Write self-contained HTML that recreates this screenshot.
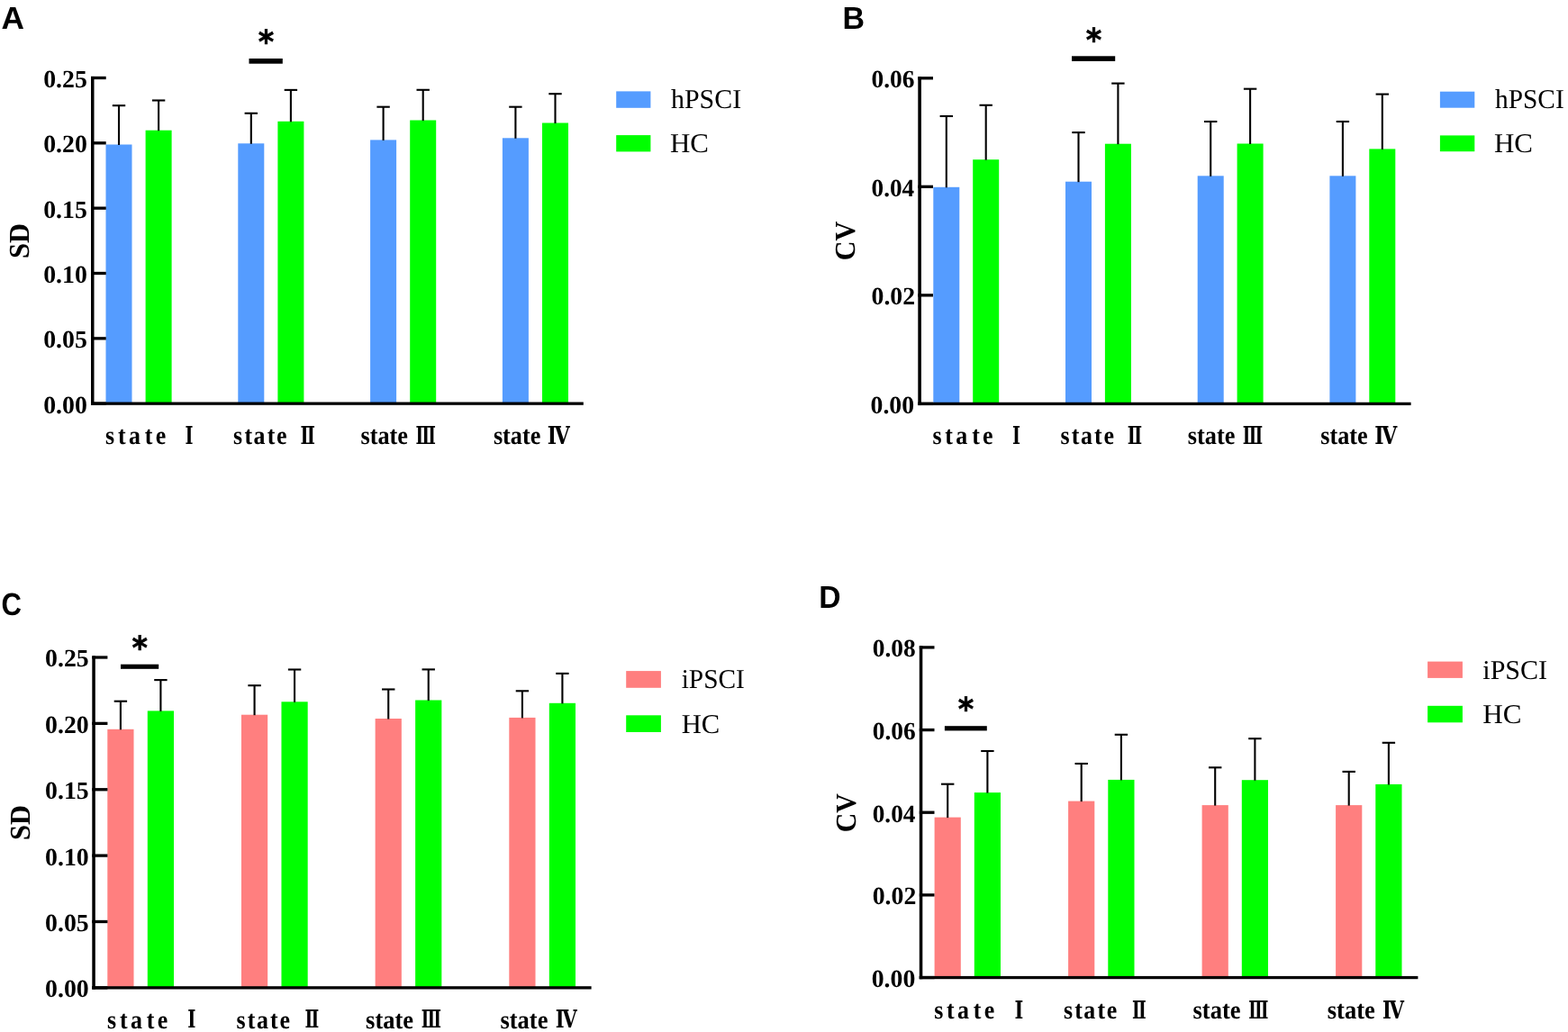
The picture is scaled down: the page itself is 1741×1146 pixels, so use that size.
<!DOCTYPE html><html><head><meta charset="utf-8"><title>Figure</title><style>html,body{margin:0;padding:0;background:#fff;overflow:hidden;}svg{display:block;}</style></head><body>
<svg width="1741" height="1146" viewBox="0 0 1741 1146" style="text-rendering:geometricPrecision">
<rect width="1741" height="1146" fill="#fff"/>
<g><rect x="117.50" y="160.50" width="29.00" height="287.65" fill="#559CFF"/><rect x="161.60" y="144.70" width="29.00" height="303.45" fill="#00FF00"/><rect x="264.30" y="159.30" width="29.00" height="288.85" fill="#559CFF"/><rect x="308.40" y="134.80" width="29.00" height="313.35" fill="#00FF00"/><rect x="411.10" y="155.40" width="29.00" height="292.75" fill="#559CFF"/><rect x="455.20" y="133.50" width="29.00" height="314.65" fill="#00FF00"/><rect x="557.90" y="153.30" width="29.00" height="294.85" fill="#559CFF"/><rect x="602.00" y="136.50" width="29.00" height="311.65" fill="#00FF00"/><line x1="132.00" y1="161.00" x2="132.00" y2="117.20" stroke="#000" stroke-width="2.1"/><line x1="124.80" y1="117.20" x2="139.20" y2="117.20" stroke="#000" stroke-width="2.1"/><line x1="176.10" y1="145.20" x2="176.10" y2="111.50" stroke="#000" stroke-width="2.1"/><line x1="168.90" y1="111.50" x2="183.30" y2="111.50" stroke="#000" stroke-width="2.1"/><line x1="278.80" y1="159.80" x2="278.80" y2="125.80" stroke="#000" stroke-width="2.1"/><line x1="271.60" y1="125.80" x2="286.00" y2="125.80" stroke="#000" stroke-width="2.1"/><line x1="322.90" y1="135.30" x2="322.90" y2="99.90" stroke="#000" stroke-width="2.1"/><line x1="315.70" y1="99.90" x2="330.10" y2="99.90" stroke="#000" stroke-width="2.1"/><line x1="425.60" y1="155.90" x2="425.60" y2="118.70" stroke="#000" stroke-width="2.1"/><line x1="418.40" y1="118.70" x2="432.80" y2="118.70" stroke="#000" stroke-width="2.1"/><line x1="469.70" y1="134.00" x2="469.70" y2="99.80" stroke="#000" stroke-width="2.1"/><line x1="462.50" y1="99.80" x2="476.90" y2="99.80" stroke="#000" stroke-width="2.1"/><line x1="572.40" y1="153.80" x2="572.40" y2="118.70" stroke="#000" stroke-width="2.1"/><line x1="565.20" y1="118.70" x2="579.60" y2="118.70" stroke="#000" stroke-width="2.1"/><line x1="616.50" y1="137.00" x2="616.50" y2="104.20" stroke="#000" stroke-width="2.1"/><line x1="609.30" y1="104.20" x2="623.70" y2="104.20" stroke="#000" stroke-width="2.1"/><rect x="101.00" y="84.90" width="3.50" height="364.90" fill="#000"/><rect x="101.00" y="446.50" width="546.80" height="3.30" fill="#000"/><rect x="101.00" y="84.85" width="16.70" height="3.30" fill="#000"/><rect x="101.00" y="157.18" width="16.70" height="3.30" fill="#000"/><rect x="101.00" y="229.51" width="16.70" height="3.30" fill="#000"/><rect x="101.00" y="301.84" width="16.70" height="3.30" fill="#000"/><rect x="101.00" y="374.17" width="16.70" height="3.30" fill="#000"/><rect x="101.00" y="446.50" width="16.70" height="3.30" fill="#000"/><rect x="276.50" y="65.00" width="37.30" height="5.70" fill="#000"/><rect x="684.20" y="101.40" width="38.20" height="18.40" fill="#559CFF"/><rect x="684.20" y="150.10" width="38.20" height="18.30" fill="#00FF00"/></g>
<g><rect x="1036.30" y="207.80" width="29.00" height="240.60" fill="#559CFF"/><rect x="1080.20" y="177.20" width="29.00" height="271.20" fill="#00FF00"/><rect x="1183.00" y="201.70" width="29.00" height="246.70" fill="#559CFF"/><rect x="1226.90" y="159.70" width="29.00" height="288.70" fill="#00FF00"/><rect x="1329.70" y="195.30" width="29.00" height="253.10" fill="#559CFF"/><rect x="1373.60" y="159.50" width="29.00" height="288.90" fill="#00FF00"/><rect x="1476.40" y="195.30" width="29.00" height="253.10" fill="#559CFF"/><rect x="1520.30" y="165.40" width="29.00" height="283.00" fill="#00FF00"/><line x1="1050.80" y1="208.30" x2="1050.80" y2="129.00" stroke="#000" stroke-width="2.1"/><line x1="1043.60" y1="129.00" x2="1058.00" y2="129.00" stroke="#000" stroke-width="2.1"/><line x1="1094.70" y1="177.70" x2="1094.70" y2="116.80" stroke="#000" stroke-width="2.1"/><line x1="1087.50" y1="116.80" x2="1101.90" y2="116.80" stroke="#000" stroke-width="2.1"/><line x1="1197.50" y1="202.20" x2="1197.50" y2="147.10" stroke="#000" stroke-width="2.1"/><line x1="1190.30" y1="147.10" x2="1204.70" y2="147.10" stroke="#000" stroke-width="2.1"/><line x1="1241.40" y1="160.20" x2="1241.40" y2="92.60" stroke="#000" stroke-width="2.1"/><line x1="1234.20" y1="92.60" x2="1248.60" y2="92.60" stroke="#000" stroke-width="2.1"/><line x1="1344.20" y1="195.80" x2="1344.20" y2="135.00" stroke="#000" stroke-width="2.1"/><line x1="1337.00" y1="135.00" x2="1351.40" y2="135.00" stroke="#000" stroke-width="2.1"/><line x1="1388.10" y1="160.00" x2="1388.10" y2="98.70" stroke="#000" stroke-width="2.1"/><line x1="1380.90" y1="98.70" x2="1395.30" y2="98.70" stroke="#000" stroke-width="2.1"/><line x1="1490.90" y1="195.80" x2="1490.90" y2="135.00" stroke="#000" stroke-width="2.1"/><line x1="1483.70" y1="135.00" x2="1498.10" y2="135.00" stroke="#000" stroke-width="2.1"/><line x1="1534.80" y1="165.90" x2="1534.80" y2="104.60" stroke="#000" stroke-width="2.1"/><line x1="1527.60" y1="104.60" x2="1542.00" y2="104.60" stroke="#000" stroke-width="2.1"/><rect x="1019.30" y="85.20" width="3.60" height="364.85" fill="#000"/><rect x="1019.30" y="446.75" width="547.30" height="3.30" fill="#000"/><rect x="1019.30" y="85.15" width="16.70" height="3.30" fill="#000"/><rect x="1019.30" y="205.68" width="16.70" height="3.30" fill="#000"/><rect x="1019.30" y="326.21" width="16.70" height="3.30" fill="#000"/><rect x="1019.30" y="446.74" width="16.70" height="3.30" fill="#000"/><rect x="1190.00" y="62.30" width="48.20" height="5.60" fill="#000"/><rect x="1598.90" y="101.70" width="38.40" height="18.00" fill="#559CFF"/><rect x="1598.90" y="150.40" width="38.40" height="17.80" fill="#00FF00"/></g>
<g><rect x="119.30" y="809.80" width="29.20" height="287.05" fill="#FF7F7F"/><rect x="163.80" y="789.40" width="29.20" height="307.45" fill="#00FF00"/><rect x="267.97" y="793.70" width="29.20" height="303.15" fill="#FF7F7F"/><rect x="312.47" y="779.30" width="29.20" height="317.55" fill="#00FF00"/><rect x="416.64" y="798.00" width="29.20" height="298.85" fill="#FF7F7F"/><rect x="461.14" y="777.50" width="29.20" height="319.35" fill="#00FF00"/><rect x="565.31" y="796.90" width="29.20" height="299.95" fill="#FF7F7F"/><rect x="609.81" y="780.80" width="29.20" height="316.05" fill="#00FF00"/><line x1="133.90" y1="810.30" x2="133.90" y2="778.70" stroke="#000" stroke-width="2.1"/><line x1="126.70" y1="778.70" x2="141.10" y2="778.70" stroke="#000" stroke-width="2.1"/><line x1="178.40" y1="789.90" x2="178.40" y2="755.10" stroke="#000" stroke-width="2.1"/><line x1="171.20" y1="755.10" x2="185.60" y2="755.10" stroke="#000" stroke-width="2.1"/><line x1="282.57" y1="794.20" x2="282.57" y2="761.20" stroke="#000" stroke-width="2.1"/><line x1="275.37" y1="761.20" x2="289.77" y2="761.20" stroke="#000" stroke-width="2.1"/><line x1="327.07" y1="779.80" x2="327.07" y2="743.50" stroke="#000" stroke-width="2.1"/><line x1="319.87" y1="743.50" x2="334.27" y2="743.50" stroke="#000" stroke-width="2.1"/><line x1="431.24" y1="798.50" x2="431.24" y2="765.50" stroke="#000" stroke-width="2.1"/><line x1="424.04" y1="765.50" x2="438.44" y2="765.50" stroke="#000" stroke-width="2.1"/><line x1="475.74" y1="778.00" x2="475.74" y2="743.40" stroke="#000" stroke-width="2.1"/><line x1="468.54" y1="743.40" x2="482.94" y2="743.40" stroke="#000" stroke-width="2.1"/><line x1="579.91" y1="797.40" x2="579.91" y2="767.30" stroke="#000" stroke-width="2.1"/><line x1="572.71" y1="767.30" x2="587.11" y2="767.30" stroke="#000" stroke-width="2.1"/><line x1="624.41" y1="781.30" x2="624.41" y2="747.90" stroke="#000" stroke-width="2.1"/><line x1="617.21" y1="747.90" x2="631.61" y2="747.90" stroke="#000" stroke-width="2.1"/><rect x="102.30" y="728.40" width="3.50" height="370.10" fill="#000"/><rect x="102.30" y="1095.20" width="554.30" height="3.30" fill="#000"/><rect x="102.30" y="728.35" width="17.10" height="3.30" fill="#000"/><rect x="102.30" y="801.72" width="17.10" height="3.30" fill="#000"/><rect x="102.30" y="875.09" width="17.10" height="3.30" fill="#000"/><rect x="102.30" y="948.46" width="17.10" height="3.30" fill="#000"/><rect x="102.30" y="1021.83" width="17.10" height="3.30" fill="#000"/><rect x="102.30" y="1095.20" width="17.10" height="3.30" fill="#000"/><rect x="134.00" y="737.70" width="42.20" height="5.10" fill="#000"/><rect x="695.20" y="745.10" width="38.70" height="18.70" fill="#FF7F7F"/><rect x="695.20" y="794.30" width="38.70" height="18.70" fill="#00FF00"/></g>
<g><rect x="1037.60" y="907.60" width="29.20" height="177.95" fill="#FF7F7F"/><rect x="1081.80" y="880.10" width="29.20" height="205.45" fill="#00FF00"/><rect x="1186.10" y="889.60" width="29.20" height="195.95" fill="#FF7F7F"/><rect x="1230.30" y="865.90" width="29.20" height="219.65" fill="#00FF00"/><rect x="1334.60" y="894.10" width="29.20" height="191.45" fill="#FF7F7F"/><rect x="1378.80" y="866.20" width="29.20" height="219.35" fill="#00FF00"/><rect x="1483.10" y="894.10" width="29.20" height="191.45" fill="#FF7F7F"/><rect x="1527.30" y="870.90" width="29.20" height="214.65" fill="#00FF00"/><line x1="1052.20" y1="908.10" x2="1052.20" y2="870.70" stroke="#000" stroke-width="2.1"/><line x1="1045.00" y1="870.70" x2="1059.40" y2="870.70" stroke="#000" stroke-width="2.1"/><line x1="1096.40" y1="880.60" x2="1096.40" y2="834.00" stroke="#000" stroke-width="2.1"/><line x1="1089.20" y1="834.00" x2="1103.60" y2="834.00" stroke="#000" stroke-width="2.1"/><line x1="1200.70" y1="890.10" x2="1200.70" y2="848.00" stroke="#000" stroke-width="2.1"/><line x1="1193.50" y1="848.00" x2="1207.90" y2="848.00" stroke="#000" stroke-width="2.1"/><line x1="1244.90" y1="866.40" x2="1244.90" y2="815.80" stroke="#000" stroke-width="2.1"/><line x1="1237.70" y1="815.80" x2="1252.10" y2="815.80" stroke="#000" stroke-width="2.1"/><line x1="1349.20" y1="894.60" x2="1349.20" y2="852.30" stroke="#000" stroke-width="2.1"/><line x1="1342.00" y1="852.30" x2="1356.40" y2="852.30" stroke="#000" stroke-width="2.1"/><line x1="1393.40" y1="866.70" x2="1393.40" y2="820.20" stroke="#000" stroke-width="2.1"/><line x1="1386.20" y1="820.20" x2="1400.60" y2="820.20" stroke="#000" stroke-width="2.1"/><line x1="1497.70" y1="894.60" x2="1497.70" y2="856.90" stroke="#000" stroke-width="2.1"/><line x1="1490.50" y1="856.90" x2="1504.90" y2="856.90" stroke="#000" stroke-width="2.1"/><line x1="1541.90" y1="871.40" x2="1541.90" y2="824.80" stroke="#000" stroke-width="2.1"/><line x1="1534.70" y1="824.80" x2="1549.10" y2="824.80" stroke="#000" stroke-width="2.1"/><rect x="1020.80" y="717.20" width="3.50" height="370.00" fill="#000"/><rect x="1020.80" y="1083.90" width="553.60" height="3.30" fill="#000"/><rect x="1020.80" y="717.25" width="16.70" height="3.30" fill="#000"/><rect x="1020.80" y="808.91" width="16.70" height="3.30" fill="#000"/><rect x="1020.80" y="900.57" width="16.70" height="3.30" fill="#000"/><rect x="1020.80" y="992.23" width="16.70" height="3.30" fill="#000"/><rect x="1020.80" y="1083.89" width="16.70" height="3.30" fill="#000"/><rect x="1048.90" y="806.20" width="46.90" height="5.20" fill="#000"/><rect x="1585.10" y="734.60" width="38.80" height="18.30" fill="#FF7F7F"/><rect x="1585.10" y="783.80" width="38.80" height="18.50" fill="#00FF00"/></g>
<text x="48.20" y="96.90" font-family="'Liberation Serif', serif" font-weight="bold" font-size="27.7" textLength="48.63" lengthAdjust="spacingAndGlyphs" fill="#000">0.25</text>
<text x="48.20" y="169.23" font-family="'Liberation Serif', serif" font-weight="bold" font-size="27.7" textLength="48.63" lengthAdjust="spacingAndGlyphs" fill="#000">0.20</text>
<text x="48.20" y="241.56" font-family="'Liberation Serif', serif" font-weight="bold" font-size="27.7" textLength="48.63" lengthAdjust="spacingAndGlyphs" fill="#000">0.15</text>
<text x="48.20" y="313.89" font-family="'Liberation Serif', serif" font-weight="bold" font-size="27.7" textLength="48.63" lengthAdjust="spacingAndGlyphs" fill="#000">0.10</text>
<text x="48.20" y="386.22" font-family="'Liberation Serif', serif" font-weight="bold" font-size="27.7" textLength="48.63" lengthAdjust="spacingAndGlyphs" fill="#000">0.05</text>
<text x="48.20" y="458.55" font-family="'Liberation Serif', serif" font-weight="bold" font-size="27.7" textLength="48.63" lengthAdjust="spacingAndGlyphs" fill="#000">0.00</text>
<text transform="translate(0 493.00) scale(0.9 1)" x="130.11 145.44 158.78 178.61 191.83" y="0" font-family="'Liberation Serif', serif" font-weight="bold" font-size="28.8" fill="#000">state</text>
<text x="205.50" y="492.50" font-family="'DejaVu Serif', serif" font-weight="bold" font-size="27.4" textLength="9.01" lengthAdjust="spacingAndGlyphs" fill="#000">Ⅰ</text>
<text transform="translate(0 493.00) scale(0.9 1)" x="287.89 301.61 312.78 329.67 341.18" y="0" font-family="'Liberation Serif', serif" font-weight="bold" font-size="28.8" fill="#000">state</text>
<text x="333.40" y="492.50" font-family="'DejaVu Serif', serif" font-weight="bold" font-size="27.4" textLength="16.42" lengthAdjust="spacingAndGlyphs" fill="#000">Ⅱ</text>
<text x="400.40" y="493.00" font-family="'Liberation Serif', serif" font-weight="bold" font-size="28.8" textLength="52.63" lengthAdjust="spacingAndGlyphs" fill="#000">state</text>
<text x="461.40" y="492.50" font-family="'DejaVu Serif', serif" font-weight="bold" font-size="27.4" textLength="22.42" lengthAdjust="spacingAndGlyphs" fill="#000">Ⅲ</text>
<text x="547.90" y="493.00" font-family="'Liberation Serif', serif" font-weight="bold" font-size="28.8" textLength="52.42" lengthAdjust="spacingAndGlyphs" fill="#000">state</text>
<text x="607.80" y="492.50" font-family="'DejaVu Serif', serif" font-weight="bold" font-size="27.4" textLength="24.98" lengthAdjust="spacingAndGlyphs" fill="#000">Ⅳ</text>
<text x="745.00" y="120.40" font-family="'Liberation Serif', serif" font-weight="normal" font-size="30.3" textLength="78.13" lengthAdjust="spacingAndGlyphs" fill="#000">hPSCI</text>
<text x="744.00" y="169.00" font-family="'Liberation Serif', serif" font-weight="normal" font-size="30.3" textLength="43.0" lengthAdjust="spacingAndGlyphs" fill="#000">HC</text>
<text x="32.10" y="287.05" font-family="'Liberation Serif', serif" font-weight="bold" font-size="32" textLength="38.98" lengthAdjust="spacingAndGlyphs" transform="rotate(-90 32.10 287.05)" fill="#000">SD</text>
<text x="1.50" y="31.50" font-family="'Liberation Sans', sans-serif" font-weight="bold" font-size="35" textLength="25.46" lengthAdjust="spacingAndGlyphs" fill="#000">A</text>
<text x="286.65" y="59.05" font-family="'DejaVu Sans', sans-serif" font-weight="bold" font-size="36.0" textLength="17.47" lengthAdjust="spacingAndGlyphs" stroke="#000" stroke-width="0.6" stroke-linejoin="round" fill="#000">*</text>
<text x="967.50" y="97.20" font-family="'Liberation Serif', serif" font-weight="bold" font-size="27.7" textLength="48.02" lengthAdjust="spacingAndGlyphs" fill="#000">0.06</text>
<text x="967.50" y="217.73" font-family="'Liberation Serif', serif" font-weight="bold" font-size="27.7" textLength="47.7" lengthAdjust="spacingAndGlyphs" fill="#000">0.04</text>
<text x="967.50" y="338.26" font-family="'Liberation Serif', serif" font-weight="bold" font-size="27.7" textLength="48.63" lengthAdjust="spacingAndGlyphs" fill="#000">0.02</text>
<text x="966.50" y="458.79" font-family="'Liberation Serif', serif" font-weight="bold" font-size="27.7" textLength="48.63" lengthAdjust="spacingAndGlyphs" fill="#000">0.00</text>
<text transform="translate(0 493.00) scale(0.9 1)" x="1150.56 1165.89 1179.22 1199.06 1212.28" y="0" font-family="'Liberation Serif', serif" font-weight="bold" font-size="28.8" fill="#000">state</text>
<text x="1123.90" y="492.50" font-family="'DejaVu Serif', serif" font-weight="bold" font-size="27.4" textLength="9.01" lengthAdjust="spacingAndGlyphs" fill="#000">Ⅰ</text>
<text transform="translate(0 493.00) scale(0.9 1)" x="1308.33 1322.06 1333.22 1350.11 1361.62" y="0" font-family="'Liberation Serif', serif" font-weight="bold" font-size="28.8" fill="#000">state</text>
<text x="1251.80" y="492.50" font-family="'DejaVu Serif', serif" font-weight="bold" font-size="27.4" textLength="16.42" lengthAdjust="spacingAndGlyphs" fill="#000">Ⅱ</text>
<text x="1318.80" y="493.00" font-family="'Liberation Serif', serif" font-weight="bold" font-size="28.8" textLength="52.63" lengthAdjust="spacingAndGlyphs" fill="#000">state</text>
<text x="1379.80" y="492.50" font-family="'DejaVu Serif', serif" font-weight="bold" font-size="27.4" textLength="22.42" lengthAdjust="spacingAndGlyphs" fill="#000">Ⅲ</text>
<text x="1466.30" y="493.00" font-family="'Liberation Serif', serif" font-weight="bold" font-size="28.8" textLength="52.42" lengthAdjust="spacingAndGlyphs" fill="#000">state</text>
<text x="1526.20" y="492.50" font-family="'DejaVu Serif', serif" font-weight="bold" font-size="27.4" textLength="24.98" lengthAdjust="spacingAndGlyphs" fill="#000">Ⅳ</text>
<text x="1660.00" y="120.30" font-family="'Liberation Serif', serif" font-weight="normal" font-size="30.3" textLength="76.67" lengthAdjust="spacingAndGlyphs" fill="#000">hPSCI</text>
<text x="1659.00" y="168.80" font-family="'Liberation Serif', serif" font-weight="normal" font-size="30.3" textLength="43.0" lengthAdjust="spacingAndGlyphs" fill="#000">HC</text>
<text x="949.50" y="289.35" font-family="'Liberation Serif', serif" font-weight="bold" font-size="32" textLength="43.45" lengthAdjust="spacingAndGlyphs" transform="rotate(-90 949.50 289.35)" fill="#000">CV</text>
<text x="935.40" y="31.85" font-family="'Liberation Sans', sans-serif" font-weight="bold" font-size="35" textLength="24.53" lengthAdjust="spacingAndGlyphs" fill="#000">B</text>
<text x="1205.85" y="57.10" font-family="'DejaVu Sans', sans-serif" font-weight="bold" font-size="36.0" textLength="17.47" lengthAdjust="spacingAndGlyphs" stroke="#000" stroke-width="0.6" stroke-linejoin="round" fill="#000">*</text>
<text x="50.10" y="740.40" font-family="'Liberation Serif', serif" font-weight="bold" font-size="27.7" textLength="48.63" lengthAdjust="spacingAndGlyphs" fill="#000">0.25</text>
<text x="50.10" y="813.77" font-family="'Liberation Serif', serif" font-weight="bold" font-size="27.7" textLength="48.63" lengthAdjust="spacingAndGlyphs" fill="#000">0.20</text>
<text x="50.10" y="887.14" font-family="'Liberation Serif', serif" font-weight="bold" font-size="27.7" textLength="48.63" lengthAdjust="spacingAndGlyphs" fill="#000">0.15</text>
<text x="50.10" y="960.51" font-family="'Liberation Serif', serif" font-weight="bold" font-size="27.7" textLength="48.63" lengthAdjust="spacingAndGlyphs" fill="#000">0.10</text>
<text x="50.10" y="1033.88" font-family="'Liberation Serif', serif" font-weight="bold" font-size="27.7" textLength="48.63" lengthAdjust="spacingAndGlyphs" fill="#000">0.05</text>
<text x="50.10" y="1107.25" font-family="'Liberation Serif', serif" font-weight="bold" font-size="27.7" textLength="48.63" lengthAdjust="spacingAndGlyphs" fill="#000">0.00</text>
<text transform="translate(0 1141.70) scale(0.9 1)" x="132.33 147.67 161.00 180.83 194.06" y="0" font-family="'Liberation Serif', serif" font-weight="bold" font-size="28.8" fill="#000">state</text>
<text x="208.30" y="1141.20" font-family="'DejaVu Serif', serif" font-weight="bold" font-size="27.4" textLength="9.2" lengthAdjust="spacingAndGlyphs" fill="#000">Ⅰ</text>
<text transform="translate(0 1141.70) scale(0.9 1)" x="291.67 305.39 316.56 333.44 344.96" y="0" font-family="'Liberation Serif', serif" font-weight="bold" font-size="28.8" fill="#000">state</text>
<text x="338.60" y="1141.20" font-family="'DejaVu Serif', serif" font-weight="bold" font-size="27.4" textLength="15.76" lengthAdjust="spacingAndGlyphs" fill="#000">Ⅱ</text>
<text x="406.10" y="1141.70" font-family="'Liberation Serif', serif" font-weight="bold" font-size="28.8" textLength="53.04" lengthAdjust="spacingAndGlyphs" fill="#000">state</text>
<text x="467.80" y="1141.20" font-family="'DejaVu Serif', serif" font-weight="bold" font-size="27.4" textLength="22.21" lengthAdjust="spacingAndGlyphs" fill="#000">Ⅲ</text>
<text x="555.40" y="1141.70" font-family="'Liberation Serif', serif" font-weight="bold" font-size="28.8" textLength="53.04" lengthAdjust="spacingAndGlyphs" fill="#000">state</text>
<text x="616.70" y="1141.20" font-family="'DejaVu Serif', serif" font-weight="bold" font-size="27.4" textLength="23.95" lengthAdjust="spacingAndGlyphs" fill="#000">Ⅳ</text>
<text x="756.70" y="764.40" font-family="'Liberation Serif', serif" font-weight="normal" font-size="30.3" textLength="70.14" lengthAdjust="spacingAndGlyphs" fill="#000">iPSCI</text>
<text x="756.70" y="813.60" font-family="'Liberation Serif', serif" font-weight="normal" font-size="30.3" textLength="42.59" lengthAdjust="spacingAndGlyphs" fill="#000">HC</text>
<text x="32.70" y="933.00" font-family="'Liberation Serif', serif" font-weight="bold" font-size="32" textLength="38.95" lengthAdjust="spacingAndGlyphs" transform="rotate(-90 32.70 933.00)" fill="#000">SD</text>
<text x="1.50" y="682.55" font-family="'Liberation Sans', sans-serif" font-weight="bold" font-size="35" textLength="22.46" lengthAdjust="spacingAndGlyphs" fill="#000">C</text>
<text x="146.40" y="731.70" font-family="'DejaVu Sans', sans-serif" font-weight="bold" font-size="36.0" textLength="17.47" lengthAdjust="spacingAndGlyphs" stroke="#000" stroke-width="0.6" stroke-linejoin="round" fill="#000">*</text>
<text x="968.70" y="729.30" font-family="'Liberation Serif', serif" font-weight="bold" font-size="27.7" textLength="48.02" lengthAdjust="spacingAndGlyphs" fill="#000">0.08</text>
<text x="968.70" y="820.96" font-family="'Liberation Serif', serif" font-weight="bold" font-size="27.7" textLength="48.02" lengthAdjust="spacingAndGlyphs" fill="#000">0.06</text>
<text x="968.70" y="912.62" font-family="'Liberation Serif', serif" font-weight="bold" font-size="27.7" textLength="47.7" lengthAdjust="spacingAndGlyphs" fill="#000">0.04</text>
<text x="968.70" y="1004.28" font-family="'Liberation Serif', serif" font-weight="bold" font-size="27.7" textLength="48.63" lengthAdjust="spacingAndGlyphs" fill="#000">0.02</text>
<text x="967.70" y="1095.94" font-family="'Liberation Serif', serif" font-weight="bold" font-size="27.7" textLength="48.63" lengthAdjust="spacingAndGlyphs" fill="#000">0.00</text>
<text transform="translate(0 1131.00) scale(0.9 1)" x="1152.44 1167.78 1181.11 1200.94 1214.17" y="0" font-family="'Liberation Serif', serif" font-weight="bold" font-size="28.8" fill="#000">state</text>
<text x="1126.40" y="1130.50" font-family="'DejaVu Serif', serif" font-weight="bold" font-size="27.4" textLength="9.8" lengthAdjust="spacingAndGlyphs" fill="#000">Ⅰ</text>
<text transform="translate(0 1131.00) scale(0.9 1)" x="1312.11 1325.83 1337.00 1353.89 1365.40" y="0" font-family="'Liberation Serif', serif" font-weight="bold" font-size="28.8" fill="#000">state</text>
<text x="1257.00" y="1130.50" font-family="'DejaVu Serif', serif" font-weight="bold" font-size="27.4" textLength="15.76" lengthAdjust="spacingAndGlyphs" fill="#000">Ⅱ</text>
<text x="1324.50" y="1131.00" font-family="'Liberation Serif', serif" font-weight="bold" font-size="28.8" textLength="53.04" lengthAdjust="spacingAndGlyphs" fill="#000">state</text>
<text x="1386.20" y="1130.50" font-family="'DejaVu Serif', serif" font-weight="bold" font-size="27.4" textLength="22.21" lengthAdjust="spacingAndGlyphs" fill="#000">Ⅲ</text>
<text x="1473.80" y="1131.00" font-family="'Liberation Serif', serif" font-weight="bold" font-size="28.8" textLength="53.04" lengthAdjust="spacingAndGlyphs" fill="#000">state</text>
<text x="1535.10" y="1130.50" font-family="'DejaVu Serif', serif" font-weight="bold" font-size="27.4" textLength="23.95" lengthAdjust="spacingAndGlyphs" fill="#000">Ⅳ</text>
<text x="1646.30" y="753.50" font-family="'Liberation Serif', serif" font-weight="normal" font-size="30.3" textLength="71.78" lengthAdjust="spacingAndGlyphs" fill="#000">iPSCI</text>
<text x="1646.30" y="802.90" font-family="'Liberation Serif', serif" font-weight="normal" font-size="30.3" textLength="43.21" lengthAdjust="spacingAndGlyphs" fill="#000">HC</text>
<text x="949.95" y="924.35" font-family="'Liberation Serif', serif" font-weight="bold" font-size="32" textLength="43.26" lengthAdjust="spacingAndGlyphs" transform="rotate(-90 949.95 924.35)" fill="#000">CV</text>
<text x="909.30" y="674.60" font-family="'Liberation Sans', sans-serif" font-weight="bold" font-size="35" textLength="24.31" lengthAdjust="spacingAndGlyphs" fill="#000">D</text>
<text x="1063.85" y="799.85" font-family="'DejaVu Sans', sans-serif" font-weight="bold" font-size="36.0" textLength="17.47" lengthAdjust="spacingAndGlyphs" stroke="#000" stroke-width="0.6" stroke-linejoin="round" fill="#000">*</text>
</svg></body></html>
